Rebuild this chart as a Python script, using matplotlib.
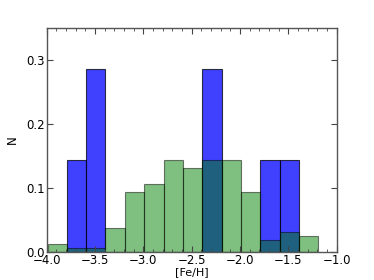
import matplotlib
matplotlib.use("Agg")
import matplotlib.pyplot as plt
from matplotlib.ticker import MultipleLocator
import numpy as np

# bin edges (width 0.2)
edges = [-4.19, -3.99, -3.79, -3.595, -3.395, -3.195, -2.99, -2.79, -2.59,
         -2.39, -2.19, -1.99, -1.79, -1.59, -1.39, -1.19]
green_vals = [0.0, 0.013, 0.006, 0.006, 0.037, 0.094, 0.107, 0.144, 0.132,
              0.144, 0.144, 0.094, 0.019, 0.032, 0.025]
blue_vals = [0.0, 0.0, 0.143, 0.286, 0.0, 0.0, 0.0, 0.0, 0.0,
             0.286, 0.0, 0.0, 0.143, 0.143, 0.0]

plt.rcParams['font.family'] = ['DejaVu Sans']
fig = plt.figure(figsize=(3.74, 2.8), dpi=100)
ax = fig.add_axes([0.125, 0.1, 0.775, 0.8])

centers = [(edges[i] + edges[i + 1]) / 2 for i in range(len(edges) - 1)]
ax.hist(centers, bins=edges, weights=blue_vals, color=(0, 0, 1), alpha=0.75,
        edgecolor='black', linewidth=0.8)
ax.hist(centers, bins=edges, weights=green_vals, color=(0, 0.5, 0), alpha=0.5,
        edgecolor='black', linewidth=0.8)

ax.set_xlim(-4.0, -1.0)
ax.set_ylim(0, 0.35)
ax.set_xticks([-4.0, -3.5, -3.0, -2.5, -2.0, -1.5, -1.0])
ax.set_yticks([0.0, 0.1, 0.2, 0.3])
ax.xaxis.set_minor_locator(MultipleLocator(0.1))
ax.tick_params(which='both', direction='in', top=True, right=True, labelsize=8.5,
               color='#444444')
ax.tick_params(which='major', length=4, pad=1.5)
ax.tick_params(which='minor', length=2)
ax.set_xlabel('[Fe/H]', fontsize=8, labelpad=0)
ax.set_ylabel('N', fontsize=8.5, labelpad=5)
for s in ax.spines.values():
    s.set_color('#555555')
    s.set_linewidth(1.0)

fig.savefig('out.png', dpi=100)
